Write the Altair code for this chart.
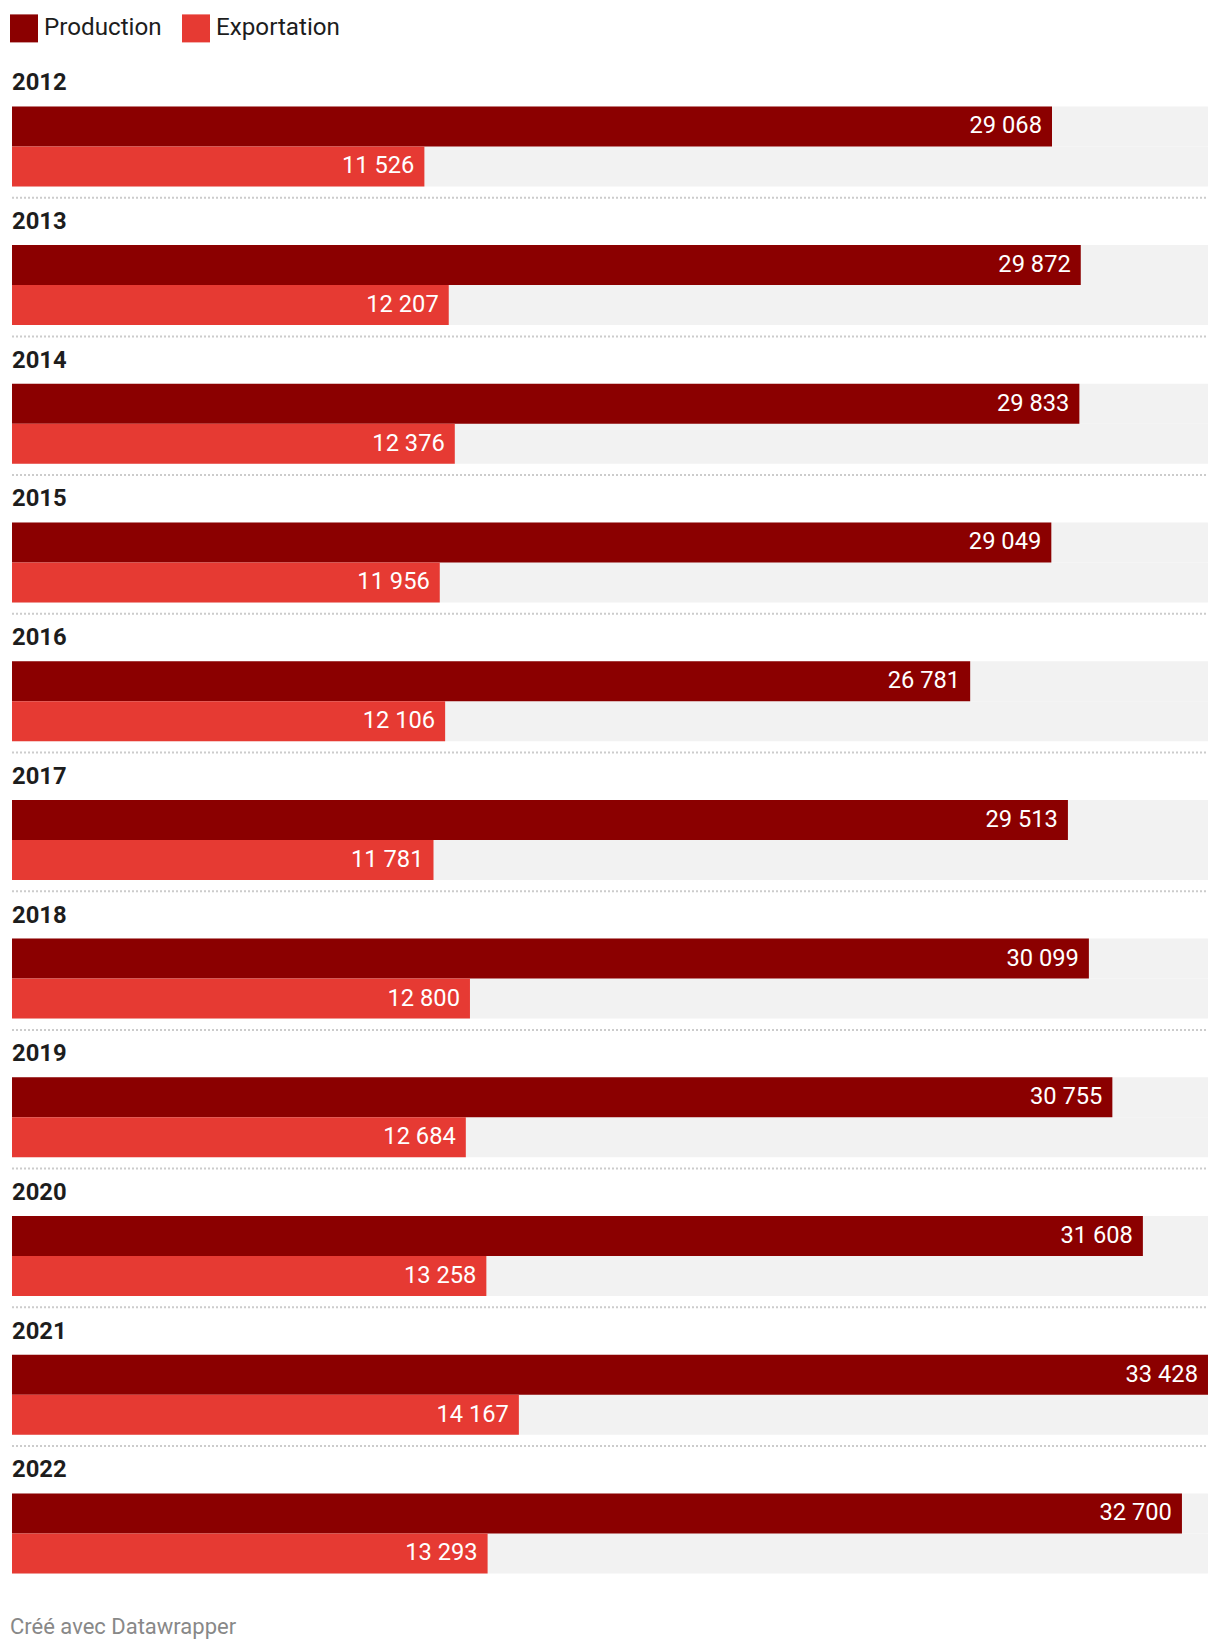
import altair as alt
import pandas as pd

years = ["2012", "2013", "2014", "2015", "2016", "2017", "2018", "2019", "2020", "2021", "2022"]
production = [29068, 29872, 29833, 29049, 26781, 29513, 30099, 30755, 31608, 33428, 32700]
exportation = [11526, 12207, 12376, 11956, 12106, 11781, 12800, 12684, 13258, 14167, 13293]
series = ["Production", "Exportation"]
colors = ["#8b0000", "#e63a33"]
footer = "Créé avec Datawrapper"

rows = []
for i, yr in enumerate(years):
    for s, vals in zip(series, [production, exportation]):
        v = vals[i]
        rows.append({"Year": yr, "Series": s, "Value": v,
                     "Label": f"{v:,}".replace(",", " ")})
df = pd.DataFrame(rows)

FONT = "Roboto"
STEP = 138.7

base = alt.Chart(df).transform_joinaggregate(MaxValue="max(Value)").transform_calculate(Zero="0")

x_scale = alt.Scale(nice=False, zero=True)
y_enc = alt.Y("Year:N", sort=years, axis=None,
              scale=alt.Scale(paddingInner=0, paddingOuter=0))
yoff = alt.YOffset("Series:N", sort=series,
                   scale=alt.Scale(paddingInner=0, paddingOuter=0.73375, align=0.8075))

bg = base.mark_bar(color="#f2f2f2").encode(
    x=alt.X("MaxValue:Q", scale=x_scale, axis=None),
    y=y_enc,
    yOffset=yoff,
)

bars = base.mark_bar().encode(
    x=alt.X("Value:Q", scale=x_scale, axis=None),
    y=y_enc,
    yOffset=yoff,
    color=alt.Color(
        "Series:N",
        sort=series,
        scale=alt.Scale(domain=series, range=colors),
        legend=alt.Legend(
            title=None, orient="none", legendX=-2, legendY=-44.6,
            direction="horizontal", symbolType="square", symbolSize=784,
            symbolStrokeWidth=0, symbolOpacity=1,
            labelFont=FONT, labelFontSize=24.2, labelColor="#1d1d1d",
            labelOffset=6, columnPadding=20, padding=0,
        ),
    ),
)

values = base.mark_text(align="right", baseline="middle", dx=-10, color="white",
                        font=FONT, fontSize=23.7).encode(
    x=alt.X("Value:Q", scale=x_scale, axis=None),
    y=y_enc,
    yOffset=yoff,
    text="Label:N",
)

year_labels = base.transform_filter(alt.datum.Series == series[0]).mark_text(
    align="left", baseline="alphabetic", dy=31.4, font=FONT, fontSize=23.8,
    fontWeight="bold", color="#1d1d1d"
).encode(
    x=alt.X("Zero:Q", scale=x_scale, axis=None),
    y=alt.Y("Year:N", sort=years, axis=None, bandPosition=0),
    text="Year:N",
)

seps = base.transform_filter(
    (alt.datum.Series == series[0]) & (alt.datum.Year != years[-1])
).mark_rule(strokeDash=[2, 2], strokeWidth=2, color="#cccccc").encode(
    x=alt.X("Zero:Q", scale=x_scale, axis=None),
    x2="MaxValue:Q",
    y=alt.Y("Year:N", sort=years, axis=None, bandPosition=1),
)

chart = alt.layer(bg, bars, values, year_labels, seps).properties(
    width=1196,
    height=STEP * len(years),
    padding={"left": 2, "top": 6, "right": 0, "bottom": 5},
    title=alt.TitleParams(footer, orient="bottom", anchor="start", font=FONT,
                          fontSize=22, fontWeight="normal", color="#888888",
                          offset=32, dx=0),
).configure_view(strokeWidth=0)

chart.save("out.html", embed_options={"renderer": "svg", "actions": False})
